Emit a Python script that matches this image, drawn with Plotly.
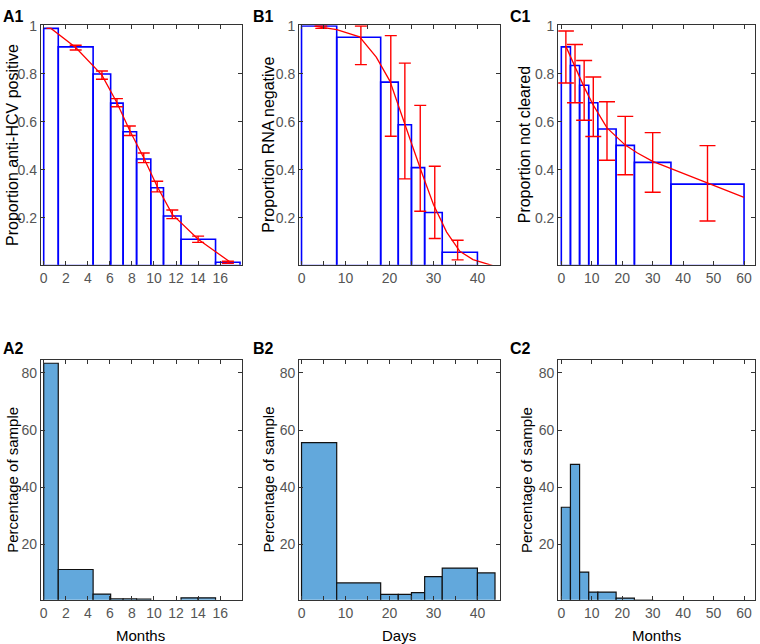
import plotly.graph_objects as go

# ---------------- data ----------------
# A1: proportion anti-HCV positive (months)
a1_edges = [0, 1.32, 4.48, 6.07, 7.2, 8.42, 9.71, 10.86, 12.45, 15.58, 17.8]
a1_props = [0.99, 0.913, 0.80, 0.678, 0.559, 0.445, 0.325, 0.207, 0.11, 0.014]
a1_err_x = [2.9, 5.28, 6.64, 7.81, 9.07, 10.29, 11.66, 14.0, 16.7]
a1_err_y = [0.91, 0.795, 0.68, 0.563, 0.45, 0.33, 0.214, 0.11, 0.014]
a1_err = [0.01, 0.017, 0.017, 0.02, 0.02, 0.022, 0.018, 0.013, 0.004]
a1_fit_x = [0.25, 0.66, 2.9, 5.28, 6.64, 7.81, 9.07, 10.29, 11.66, 14.0, 16.9]
a1_fit_y = [0.99, 0.99, 0.91, 0.795, 0.68, 0.563, 0.45, 0.33, 0.214, 0.11, 0.015]

# B1: proportion RNA negative (days)
b1_edges = [0, 8, 18, 22, 25, 28, 32, 40]
b1_props = [1.0, 0.953, 0.766, 0.588, 0.409, 0.222, 0.056]
b1_err_x = [4.5, 13.5, 20.3, 23.5, 27.0, 30.3, 35.5]
b1_err_y = [0.995, 0.95, 0.75, 0.60, 0.449, 0.265, 0.065]
b1_err_plus = [0.005, 0.05, 0.21, 0.245, 0.22, 0.15, 0.041]
b1_err_minus = [0.005, 0.111, 0.21, 0.238, 0.222, 0.152, 0.041]
b1_fit_x = [2.9, 8, 13.2, 17, 20.1, 23.7, 25.2, 27.5, 30, 33, 36, 39, 42, 43.5]
b1_fit_y = [1.0, 0.985, 0.955, 0.87, 0.77, 0.585, 0.50, 0.38, 0.255, 0.14, 0.06, 0.025, 0.008, 0.0]

# C1: proportion not cleared (months)
c1_edges = [0, 3, 6, 9, 12, 18, 24, 36, 60]
c1_props = [0.913, 0.835, 0.753, 0.68, 0.57, 0.502, 0.431, 0.34]
c1_err_x = [1.5, 4.5, 7.5, 10.5, 15, 21, 30, 48]
c1_err_hi = [0.979, 0.923, 0.856, 0.787, 0.684, 0.623, 0.555, 0.501]
c1_err_lo = [0.762, 0.68, 0.607, 0.539, 0.44, 0.379, 0.306, 0.186]
c1_fit_x = [1.5, 4.5, 7.5, 10.5, 15, 21, 25, 30, 36, 42, 48, 54, 60]
c1_fit_y = [0.915, 0.83, 0.745, 0.67, 0.575, 0.503, 0.47, 0.435, 0.405, 0.375, 0.345, 0.315, 0.285]

# A2 / B2 / C2: percentage of sample
a2_edges = [0, 1.32, 4.48, 6.07, 7.2, 8.42, 9.71, 10.86, 12.45, 14.0, 15.58]
a2_pct = [83.4, 11.2, 2.6, 0.9, 0.9, 0.8, 0, 0, 1.3, 1.3]
b2_edges = [0, 8, 18, 22, 25, 28, 32, 40, 44]
b2_pct = [55.6, 6.5, 2.5, 2.5, 3.1, 8.7, 11.7, 10.0]
c2_edges = [0, 3, 6, 9, 12, 18, 24, 30]
c2_pct = [33.0, 48.0, 10.3, 3.3, 3.3, 1.2, 0.5]

top_yticks = [0.2, 0.4, 0.6, 0.8, 1]
top_ytext = ["0.2", "0.4", "0.6", "0.8", "1"]
bot_yticks = [20, 40, 60, 80]
a_xticks = [0, 2, 4, 6, 8, 10, 12, 14, 16]
b_xticks = [0, 10, 20, 30, 40]
c_xticks = [0, 10, 20, 30, 40, 50, 60]

# ---------------- style ----------------
W, H = 760, 644
FONT = "Liberation Sans, Arial, sans-serif"
BLUE = "#0000ff"
RED = "#ff0000"
BARC = "#62a8dc"
AXC = "#333333"
TICKC = "#555555"


def mids(edges):
    return [(edges[i] + edges[i + 1]) / 2 for i in range(len(edges) - 1)]


def widths(edges):
    return [edges[i + 1] - edges[i] for i in range(len(edges) - 1)]


fig = go.Figure()


def outline_bars(edges, vals, xa, ya):
    fig.add_trace(go.Bar(x=mids(edges), y=vals, width=widths(edges), base=0,
                         marker=dict(color="rgba(0,0,0,0)", line=dict(color=BLUE, width=1.6)),
                         xaxis=xa, yaxis=ya, showlegend=False))


def filled_bars(edges, vals, xa, ya):
    fig.add_trace(go.Bar(x=mids(edges), y=vals, width=widths(edges), base=0,
                         marker=dict(color=BARC, line=dict(color="#111111", width=1.2)),
                         xaxis=xa, yaxis=ya, showlegend=False))


def fit_line(x, y, xa, ya):
    fig.add_trace(go.Scatter(x=x, y=y, mode="lines", line=dict(color=RED, width=1.3),
                             xaxis=xa, yaxis=ya, showlegend=False))


def err_bars(x, y, plus, minus, xa, ya, w):
    fig.add_trace(go.Scatter(x=x, y=y, mode="markers", marker=dict(size=1, color=RED),
                             error_y=dict(type="data", array=plus, arrayminus=minus, symmetric=False,
                                          color=RED, thickness=1.4, width=w),
                             xaxis=xa, yaxis=ya, showlegend=False))


# A1
outline_bars(a1_edges, a1_props, "x", "y")
fit_line(a1_fit_x, a1_fit_y, "x", "y")
err_bars(a1_err_x, a1_err_y, a1_err, a1_err, "x", "y", 6)
# B1
outline_bars(b1_edges, b1_props, "x2", "y2")
fit_line(b1_fit_x, b1_fit_y, "x2", "y2")
err_bars(b1_err_x, b1_err_y, b1_err_plus, b1_err_minus, "x2", "y2", 6)
# C1
outline_bars(c1_edges, c1_props, "x3", "y3")
fit_line(c1_fit_x, c1_fit_y, "x3", "y3")
err_bars(c1_err_x, c1_props,
         [h - v for h, v in zip(c1_err_hi, c1_props)],
         [v - l for l, v in zip(c1_err_lo, c1_props)], "x3", "y3", 8)
# bottom row
filled_bars(a2_edges, a2_pct, "x4", "y4")
filled_bars(b2_edges, b2_pct, "x5", "y5")
filled_bars(c2_edges, c2_pct, "x6", "y6")


def px_x(a, b):
    return [a / W, b / W]


def px_y(top, bottom):
    return [1 - bottom / H, 1 - top / H]


def xaxis(dom, rng, ticks, anchor, minor=None):
    d = dict(domain=dom, range=rng, tickvals=ticks, ticktext=[str(t) for t in ticks],
             anchor=anchor, showline=True, linecolor=AXC, linewidth=1.2, mirror="ticks",
             ticks="inside", ticklen=4, tickcolor=AXC, tickwidth=1,
             showgrid=False, zeroline=False,
             tickfont=dict(family=FONT, size=14, color=TICKC))
    if minor:
        d["minor"] = dict(dtick=minor, ticks="inside", ticklen=4, tickcolor=AXC, showgrid=False)
    return d


def yaxis(dom, rng, ticks, text, anchor):
    return dict(domain=dom, range=rng, tickvals=ticks, ticktext=text,
                anchor=anchor, showline=True, linecolor=AXC, linewidth=1.2, mirror="ticks",
                ticks="inside", ticklen=4, tickcolor=AXC, tickwidth=1,
                showgrid=False, zeroline=False,
                tickfont=dict(family=FONT, size=14, color=TICKC))


colA = px_x(40, 241)
colB = px_x(298.5, 499.5)
colC = px_x(558, 755)
rowT = px_y(18.5, 260.5)
rowB = px_y(356.7, 599.3)

a_rng = [-0.25, 17.95]
b_rng = [-0.55, 45.1]
c_rng = [-1.0, 63.6]
top_rng = [0.004, 1.003]
bot_rng = [0.6, 84.6]

fig.update_layout(
    width=W, height=H, margin=dict(l=0, r=0, t=0, b=0),
    paper_bgcolor="white", plot_bgcolor="white", barmode="overlay",
    font=dict(family=FONT),
    xaxis=xaxis(colA, a_rng, a_xticks, "y"),
    yaxis=yaxis(rowT, top_rng, top_yticks, top_ytext, "x"),
    xaxis2=xaxis(colB, b_rng, b_xticks, "y2", minor=5),
    yaxis2=yaxis(rowT, top_rng, top_yticks, top_ytext, "x2"),
    xaxis3=xaxis(colC, c_rng, c_xticks, "y3"),
    yaxis3=yaxis(rowT, top_rng, top_yticks, top_ytext, "x3"),
    xaxis4=xaxis(colA, a_rng, a_xticks, "y4"),
    yaxis4=yaxis(rowB, bot_rng, bot_yticks, [str(t) for t in bot_yticks], "x4"),
    xaxis5=xaxis(colB, b_rng, b_xticks, "y5", minor=5),
    yaxis5=yaxis(rowB, bot_rng, bot_yticks, [str(t) for t in bot_yticks], "x5"),
    xaxis6=xaxis(colC, c_rng, c_xticks, "y6"),
    yaxis6=yaxis(rowB, bot_rng, bot_yticks, [str(t) for t in bot_yticks], "x6"),
)

ann = []


def label(text, x, y, bold=False, angle=0, size=15):
    ann.append(dict(text=f"<b>{text}</b>" if bold else text, x=x / W, y=1 - y / H,
                    xref="paper", yref="paper", showarrow=False, textangle=angle,
                    xanchor="center", yanchor="middle",
                    font=dict(family=FONT, size=size, color="#000000")))


# panel labels
label("A1", 13, 10, bold=True, size=16)
label("B1", 263, 10, bold=True, size=16)
label("C1", 520, 10, bold=True, size=16)
label("A2", 13, 345, bold=True, size=16)
label("B2", 263, 345, bold=True, size=16)
label("C2", 520, 345, bold=True, size=16)
# y titles
label("Proportion anti-HCV positive", 12, 139.5, angle=-90, size=16)
label("Proportion RNA negative", 268, 139.5, angle=-90, size=16)
label("Proportion not cleared", 525, 139.5, angle=-90, size=16)
label("Percentage of sample", 12, 478, angle=-90)
label("Percentage of sample", 268, 478, angle=-90)
label("Percentage of sample", 526, 478, angle=-90)
# x titles
label("Months", 140, 635)
label("Days", 399, 635)
label("Months", 656, 635)

fig.update_layout(annotations=ann)
fig.write_html(
    "out.html",
    config={"displayModeBar": False},
    post_script="document.body.style.margin='0';document.body.style.padding='0';",
)
